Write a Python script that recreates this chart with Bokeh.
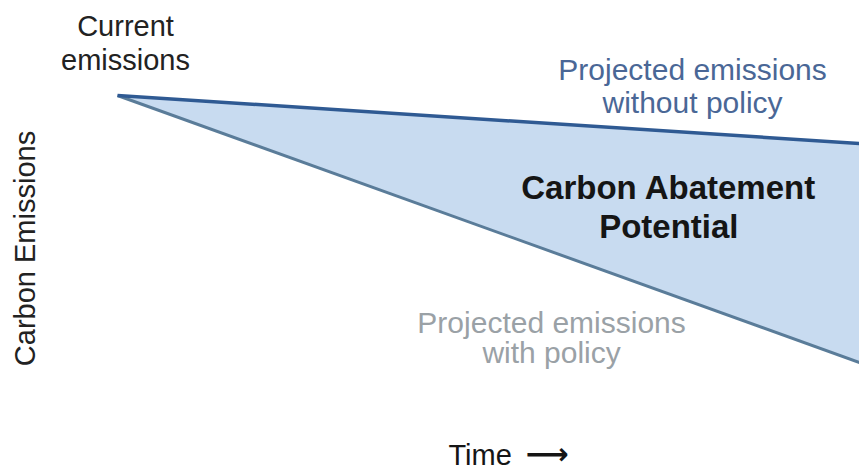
import math
from bokeh.plotting import figure
from bokeh.models import Range1d, ColumnDataSource
from bokeh.core.properties import value
from bokeh.embed import file_html
from bokeh.resources import INLINE

# ---- data (conceptual emissions paths) ----
time = [0, 10]
emissions_without_policy = [100, 84]
emissions_with_policy = [100, 11]

current_label = ["Current", "emissions"]
without_label = ["Projected emissions", "without policy"]
with_label = ["Projected emissions", "with policy"]
area_label = ["Carbon Abatement", "Potential"]
x_title = "Time"
x_arrow = "\u27f6"
y_title = "Carbon Emissions"

FONT = value("Liberation Sans")

p = figure(width=859, height=472, output_backend="svg", toolbar_location=None,
           x_axis_type=None, y_axis_type=None, min_border=0,
           x_range=Range1d(-1.577, 10.0), y_range=Range1d(-25.67, 131.67))
p.outline_line_color = None
p.background_fill_color = "white"
p.border_fill_color = "white"
p.grid.visible = False

src = ColumnDataSource(dict(t=time, hi=emissions_without_policy, lo=emissions_with_policy))
p.varea(x="t", y1="lo", y2="hi", source=src, fill_color="#c8dbf0")
p.line(x="t", y="lo", source=src, line_color="#5a7c99", line_width=3)
p.line(x="t", y="hi", source=src, line_color="#2f5a93", line_width=3.5)

def label(x, ys, texts, color, size, style="normal", align="center", font=FONT):
    p.text(x=[x] * len(texts), y=ys, text=texts, text_font=font,
           text_font_size=size, text_font_style=style, text_color=color,
           text_align=align, text_baseline="middle")

label(time[0] + 0.108, [123.3, 111.8], current_label, "#222222", "29px")
label(7.75, [108.6, 97.6], without_label, "#4a6796", "30px")
label(7.43, [69.2, 56.3], area_label, "#151515", "33px", style="bold")
label(5.85, [24.2, 14.2], with_label, "#9aa1a6", "30px")
label(4.46, [-20], [x_title], "#151515", "29px", align="left")
label(5.5, [-19.5], [x_arrow], "#151515", "30px", style="bold", align="left",
      font=value("DejaVu Sans"))

p.text(x=[-1.253], y=[49], text=[y_title], angle=math.pi / 2, text_font=FONT,
       text_font_size="29px", text_color="#222222", text_align="center",
       text_baseline="middle")

open("out.html", "w").write(file_html(p, INLINE))
